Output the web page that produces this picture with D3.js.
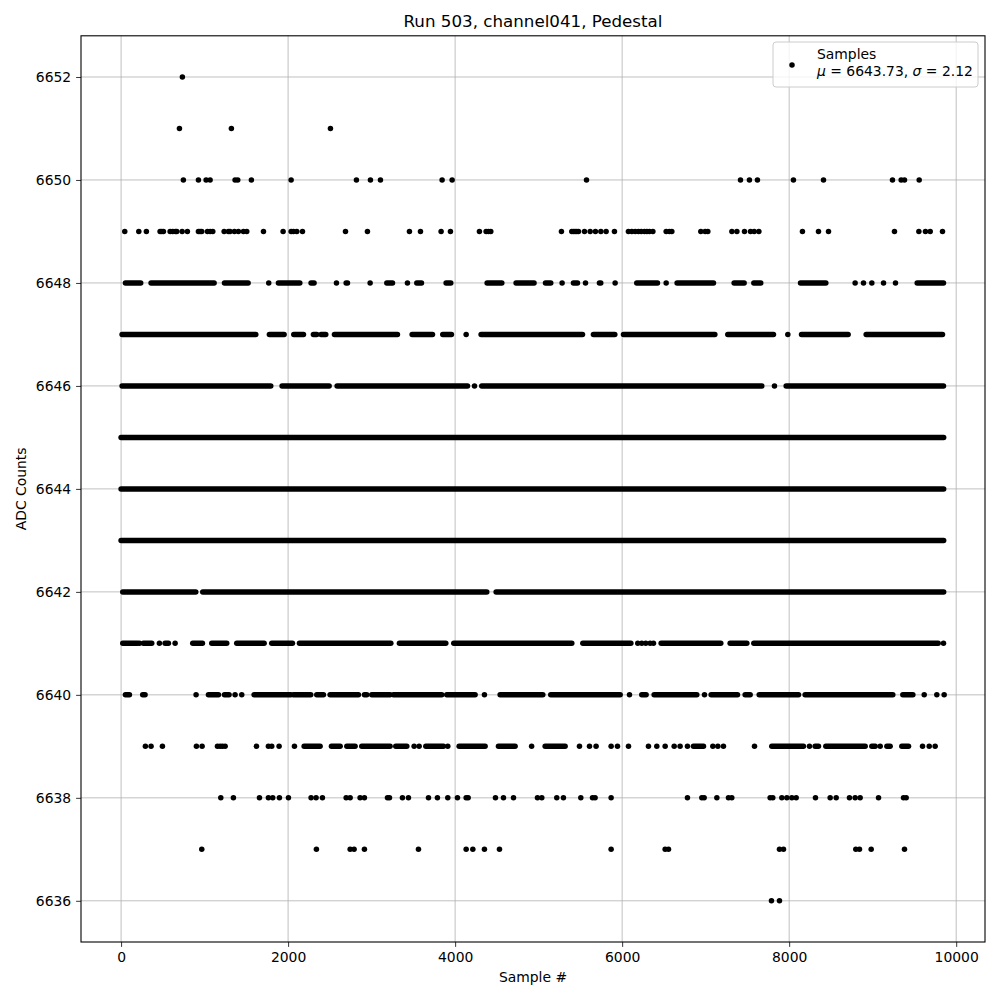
<!DOCTYPE html>
<html lang="en">
<head>
  <meta charset="UTF-8">
  <script src="https://d3js.org/d3.v7.min.js"></script>
  <style>
    body { margin: 0; background: #fff; }
    text { font-family: "DejaVu Sans", sans-serif; fill: #000; }
    .grid line { stroke: #b0b0b0; stroke-width: 0.8px; }
    .axis text { font-size: 13.9px; }
    .axis line { stroke: #000; stroke-width: 0.8px; }
    .axis path { display: none; }
  </style>
</head>
<body>
<script>
// Sample numbers where a dot sits, per ADC level. A pair [a, b] is a stretch
// where the dots overlap into a solid band.
const adc6652 = [734];
const adc6651 = [699, 1321, 2507];
const adc6650 = [746, 926, 1018, 1066, 1365, 1397, 1560, 2036, 2818, 2986, 3106, 3844, 3964,
  5573, 7417, 7524, 7620, 8051, 8411, 9237, 9341, 9381, 9557];
const adc6649 = [44, 212, 303, 467, 487, 507, 587, 619, 651, 667, 731, 794, 926, 946, 966, 1034,
  1066, 1098, 1234, 1285, 1305, 1357, 1405, 1465, 1505, 1705, 1940, 2036, 2064, 2104, 2172, 2687,
  2950, 3453, 3585, 3832, 3944, 4291, 4371, 4399, 4427, 5273, 5397, 5417, 5437, 5457, 5477, 5549,
  5617, 5680, 5745, 5808, 5908, 6075, 6116, 6156, 6195, 6228, 6267, 6296, 6327, 6368, 6527, 6566,
  6595, 6942, 6994, 7026, 7314, 7374, 7465, 7537, 7581, 7637, 8159, 8351, 8471, 9261, 9553, 9632,
  9689, 9836];
const adc6648 = [[52, 235], [359, 1114], [1238, 1521], 1768, [1884, 2140], [2275, 2311], 2579,
  [2695, 2711], 2982, [3182, 3250], 3429, [3541, 3597], [3892, 3948], [4383, 4559], [4730, 4945],
  [5082, 5145], 5281, [5417, 5465], 5561, [5728, 5744], 5916, [6175, 6423], 6527, [6658, 7094],
  [7341, 7461], [7577, 7660], [8136, 8439], 8790, 8890, 8990, 9130, 9273, [9533, 9848]];
const adc6647 = [[12, 1613], [1776, 1952], [2068, 2184], [2303, 2343], [2395, 2451], [2555, 3309],
  [3485, 3729], [3852, 3956], 4132, [4311, 5525], [5656, 5912], [6016, 7110], [7265, 7812], 7984,
  [8148, 8706], [8922, 9836]];
const adc6646 = [[12, 1792], [1928, 2491], [2587, 4148], 4232, [4319, 7672], 7824, [7964, 9848]];
const adc6645 = [[0, 9850]];
const adc6644 = [[0, 9850]];
const adc6643 = [[0, 9850]];
const adc6642 = [[20, 894], [978, 4379], [4491, 9850]];
const adc6641 = [[20, 196], 220, [267, 367], 459, [527, 567], 647, [858, 974], [1086, 1265],
  [1385, 1713], [1804, 2052], [2136, 3230], [3333, 3888], [3984, 5397], [5529, 6104], 6187, 6235,
  6283, 6335, 6375, [6467, 7181], [7293, 7493], [7577, 9784], 9848];
const adc6640 = [[52, 100], [259, 287], 898, [1046, 1166], [1238, 1293], 1365, 1445, [1593, 2032],
  [2064, 2271], [2343, 2423], [2503, 2842], [2914, 2942], [3002, 3221], [3261, 3840], [3900, 4239],
  4351, [4539, 5050], [5145, 5976], 6088, [6235, 6287], [6383, 6894], 6986, [7066, 7381],
  [7473, 7533], [7641, 8112], [8191, 9241], [9361, 9481], 9617, 9768, 9856];
const adc6639 = [291, 359, 495, 902, 970, 1154, 1186, 1214, 1246, 1621, 1764, 1804, 1892, 2076,
  [2192, 2383], [2519, 2623], [2703, 2802], [2882, 3221], [3289, 3421], 3509, 3569, [3649, 3860],
  3912, [4048, 4359], [4519, 4718], 4916, [5078, 5317], 5489, 5609, 5688, 5868, 5944, 6076, 6315,
  6415, 6515, 6623, 6694, 6782, [6854, 6974], 7086, 7146, 7213, 7585, [7792, 8171], 8243,
  [8311, 8351], [8439, 8910], [8990, 9030], 9090, [9170, 9209], [9349, 9429], 9597, 9677, 9748];
const adc6638 = [1194, 1345, 1657, 1764, 1816, 1896, 2004, 2275, 2335, 2411, 2695, 2743, 2862, 2914,
  3190, 3214, 3369, 3441, 3681, 3788, 3912, 4028, 4132, 4156, 4483, 4579, 4699, 4986, 5038, 5217,
  5297, 5505, 5645, 5676, 5868, 6782, 6954, 6982, 7134, 7273, 7313, 7772, 7804, 7912, 7972, 8032,
  8084, 8315, 8491, 8563, 8722, 8790, 8850, 9070, 9369, 9401];
const adc6637 = [966, 2339, 2743, 2790, 2914, 3561, 4132, 4212, 4351, 4531, 5868, 6515, 6555, 7884,
  7932, 8798, 8842, 8982, 9381];
const adc6636 = [7788, 7884];

const levels = [6652, 6651, 6650, 6649, 6648, 6647, 6646, 6645, 6644, 6643, 6642, 6641, 6640,
  6639, 6638, 6637, 6636];
const levelSamples = [adc6652, adc6651, adc6650, adc6649, adc6648, adc6647, adc6646, adc6645,
  adc6644, adc6643, adc6642, adc6641, adc6640, adc6639, adc6638, adc6637, adc6636];

const xTicks = [0, 2000, 4000, 6000, 8000, 10000];
const yTicks = [6636, 6638, 6640, 6642, 6644, 6646, 6648, 6650, 6652];
const meanVal = "6643.73";
const sigmaVal = "2.12";

const W = 1000, H = 1000;
const mL = 81, mR = 985, mT = 35.8, mB = 942;
const r = 2.75;

const svg = d3.select("body").append("svg")
  .attr("width", W)
  .attr("height", H);

const x = d3.scaleLinear().domain([-480, 10345]).range([mL, mR]);
const y = d3.scaleLinear().domain([6635.2, 6652.8]).range([mB, mT]);

// grid
svg.append("g").attr("class", "grid")
  .selectAll("line").data(xTicks).join("line")
  .attr("x1", d => x(d)).attr("x2", d => x(d))
  .attr("y1", mT).attr("y2", mB);
svg.append("g").attr("class", "grid")
  .selectAll("line").data(yTicks).join("line")
  .attr("x1", mL).attr("x2", mR)
  .attr("y1", d => y(d)).attr("y2", d => y(d));

// split into single dots and solid stretches
const dots = [], runs = [];
levels.forEach((lv, i) => {
  levelSamples[i].forEach(s => {
    if (Array.isArray(s)) runs.push({ lv, a: s[0], b: s[1] });
    else dots.push({ lv, s });
  });
});

const plot = svg.append("g");
plot.selectAll("line").data(runs).join("line")
  .attr("x1", d => x(d.a)).attr("x2", d => x(d.b))
  .attr("y1", d => y(d.lv)).attr("y2", d => y(d.lv))
  .attr("stroke", "#000")
  .attr("stroke-width", r * 2)
  .attr("stroke-linecap", "round");
plot.selectAll("circle").data(dots).join("circle")
  .attr("cx", d => x(d.s))
  .attr("cy", d => y(d.lv))
  .attr("r", r)
  .attr("fill", "#000");

// axes
svg.append("g").attr("class", "axis")
  .attr("transform", `translate(0,${mB})`)
  .call(d3.axisBottom(x).tickValues(xTicks).tickFormat(d3.format("d"))
    .tickSize(4.9).tickPadding(4.9));
svg.append("g").attr("class", "axis")
  .attr("transform", `translate(${mL},0)`)
  .call(d3.axisLeft(y).tickValues(yTicks).tickFormat(d3.format("d"))
    .tickSize(4.9).tickPadding(4.9));

// frame
svg.append("rect")
  .attr("x", mL).attr("y", mT)
  .attr("width", mR - mL).attr("height", mB - mT)
  .attr("fill", "none").attr("stroke", "#000").attr("stroke-width", 1.1);

// title and labels
svg.append("text")
  .attr("x", (mL + mR) / 2).attr("y", 27)
  .attr("text-anchor", "middle")
  .style("font-size", "16.7px")
  .text("Run 503, channel041, Pedestal");
svg.append("text")
  .attr("x", (mL + mR) / 2).attr("y", 982)
  .attr("text-anchor", "middle")
  .style("font-size", "13.9px")
  .text("Sample #");
svg.append("text")
  .attr("transform", `translate(26,${(mT + mB) / 2}) rotate(-90)`)
  .attr("text-anchor", "middle")
  .style("font-size", "13.9px")
  .text("ADC Counts");

// legend
const lg = svg.append("g");
lg.append("rect")
  .attr("x", 773).attr("y", 42).attr("width", 205).attr("height", 45)
  .attr("rx", 3)
  .attr("fill", "#fff").attr("fill-opacity", 0.8)
  .attr("stroke", "#cccccc").attr("stroke-width", 1);
lg.append("circle").attr("cx", 792).attr("cy", 65).attr("r", r).attr("fill", "#000");
lg.append("text").attr("x", 817).attr("y", 59).style("font-size", "13.9px").text("Samples");
const t2 = lg.append("text").attr("x", 817).attr("y", 76).style("font-size", "13.9px");
t2.append("tspan").style("font-style", "italic").text("\u03bc");
t2.append("tspan").text(` = ${meanVal}, `);
t2.append("tspan").style("font-style", "italic").text("\u03c3");
t2.append("tspan").text(` = ${sigmaVal}`);
</script>
</body>
</html>
